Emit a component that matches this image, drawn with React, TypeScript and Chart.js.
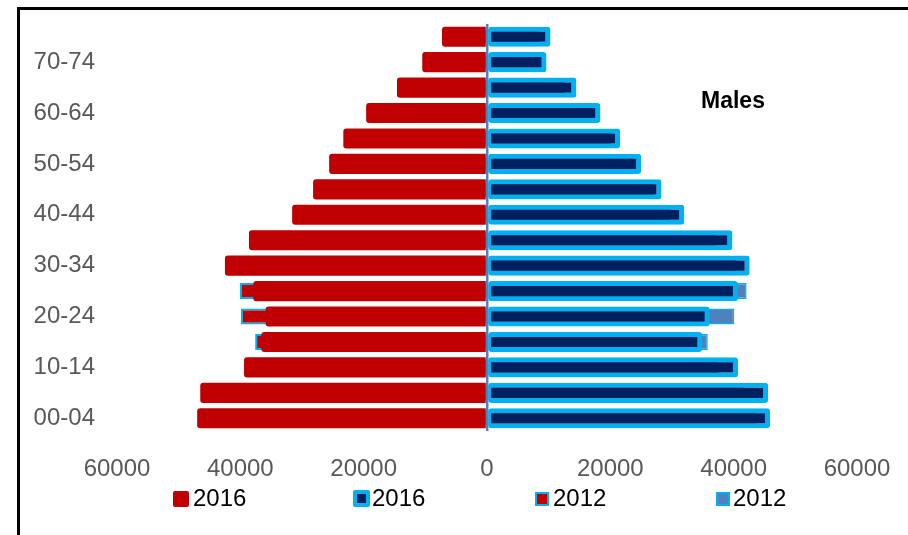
import React, { useEffect, useRef } from 'react';
import { Chart, registerables } from 'chart.js';

Chart.register(...registerables);

// Age bands, youngest first (drawn bottom-up via a reversed axis)
const ageGroups = [
  '00-04', '05-09', '10-14', '15-19', '20-24', '25-29', '30-34', '35-39',
  '40-44', '45-49', '50-54', '55-59', '60-64', '65-69', '70-74', '75-79',
];

// Population counts per age band
const females2016 = [47000, 46500, 39400, 36600, 35900, 37900, 42500, 38600, 31600, 28200, 25600, 23300, 19600, 14600, 10500, 7300];
const males2016 = [45900, 45600, 40700, 34900, 36100, 40700, 42600, 39800, 32000, 28300, 25000, 21600, 18400, 14500, 9650, 10300];
const females2012 = [44800, 42500, 38600, 37600, 39900, 40100, 41000, 36200, 30500, 27400, 24800, 22100, 17900, 12800, 9600, 6800];
const males2012 = [43800, 41800, 37600, 35800, 40100, 42100, 40500, 37200, 29800, 27200, 23900, 20100, 16600, 12600, 8900, 8600];

// Value axis range and tick spacing
const axisMin = -60000;
const axisMax = 60000;
const axisStep = 20000;

const legendItems = ['2016', '2016', '2012', '2012'];

const FONT = '"Liberation Sans", Arial, sans-serif';
const RED = '#C00000';
const NAVY = '#002060';
const SKY = '#00B0F0';
const STEEL = '#4F81BD';

export default function App() {
  const canvasRef = useRef<HTMLCanvasElement>(null);

  useEffect(() => {
    const canvas = canvasRef.current;
    if (!canvas) return;
    const chart = new Chart(canvas, {
      type: 'bar',
      data: {
        labels: ageGroups,
        datasets: [
          {
            label: '2016',
            data: females2016.map((v) => -v),
            backgroundColor: RED,
            borderWidth: 0,
            borderRadius: 3,
            grouped: false,
            barPercentage: 0.79,
            categoryPercentage: 1,
            order: 0,
          },
          {
            label: '2016',
            data: males2016,
            backgroundColor: NAVY,
            borderColor: SKY,
            borderWidth: { left: 3, top: 5, right: 5, bottom: 5 },
            borderSkipped: false,
            borderRadius: 3,
            grouped: false,
            barPercentage: 0.79,
            categoryPercentage: 1,
            order: 1,
          },
          {
            label: '2012',
            data: females2012.map((v) => -v),
            backgroundColor: RED,
            borderColor: SKY,
            borderWidth: 2,
            borderSkipped: 'start',
            grouped: false,
            barPercentage: 0.63,
            categoryPercentage: 1,
            order: 2,
          },
          {
            label: '2012',
            data: males2012,
            backgroundColor: STEEL,
            borderColor: SKY,
            borderWidth: 1.5,
            borderSkipped: 'start',
            grouped: false,
            barPercentage: 0.63,
            categoryPercentage: 1,
            order: 3,
          },
        ],
      },
      options: {
        indexAxis: 'y',
        responsive: false,
        animation: false,
        layout: { padding: { left: 12, right: 51, top: 24, bottom: 27 } },
        plugins: {
          legend: { display: false },
          tooltip: { enabled: false },
        },
        scales: {
          x: {
            type: 'linear',
            min: axisMin,
            max: axisMax,
            z: 1,
            ticks: {
              stepSize: axisStep,
              padding: 24,
              color: '#595959',
              font: { family: FONT, size: 24 },
              callback: (v: any) => String(Math.abs(Number(v))),
            },
            grid: {
              drawTicks: false,
              color: (ctx: any) => (ctx.tick && ctx.tick.value === 0 ? STEEL : 'rgba(0,0,0,0)'),
              lineWidth: 2.5,
            },
            border: { display: false },
            afterFit: (s: any) => {
              s.paddingLeft = 0;
              s.paddingRight = 0;
              s.height = 77;
            },
          },
          y: {
            type: 'category',
            reverse: true,
            ticks: {
              autoSkip: false,
              padding: 22,
              color: '#595959',
              font: { family: FONT, size: 24 },
              callback: (_v: any, i: number) => (i % 2 === 0 ? ageGroups[i] : ''),
            },
            grid: { display: false, drawTicks: false },
            border: { display: false },
            afterFit: (s: any) => {
              s.paddingTop = 0;
              s.paddingBottom = 0;
              s.width = 105;
            },
          },
        },
      },
    } as any);
    return () => chart.destroy();
  }, []);

  const legendBoxes: React.CSSProperties[] = [
    { left: 173, top: 491, width: 16, height: 16, background: RED, borderRadius: 2 },
    { left: 353, top: 490, width: 9, height: 9, background: NAVY, border: `4px solid ${SKY}`, borderRadius: 2 },
    { left: 535, top: 492, width: 10, height: 10, background: RED, border: `2px solid ${SKY}` },
    { left: 716, top: 492, width: 10, height: 10, background: STEEL, border: `2px solid ${SKY}` },
  ];
  const legendTextLeft = [193, 372, 553, 733];

  return (
    <div
      style={{
        position: 'fixed',
        left: 0,
        top: 0,
        width: 908,
        height: 535,
        overflow: 'hidden',
        background: '#ffffff',
      }}
    >
      <div
        style={{
          position: 'absolute',
          left: 17,
          top: 7,
          width: 1200,
          height: 1200,
          border: '3px solid #000000',
        }}
      />
      <canvas
        ref={canvasRef}
        width={908}
        height={535}
        style={{ position: 'absolute', left: 0, top: 0, width: 908, height: 535 }}
      />
      <div
        style={{
          position: 'absolute',
          left: 701,
          top: 89,
          fontFamily: FONT,
          fontWeight: 'bold',
          fontSize: 23,
          lineHeight: '23px',
          color: '#000000',
          whiteSpace: 'nowrap',
        }}
      >
        Males
      </div>
      {legendItems.map((t, i) => (
        <React.Fragment key={i}>
          <div style={{ position: 'absolute', ...legendBoxes[i] }} />
          <div
            style={{
              position: 'absolute',
              left: legendTextLeft[i],
              top: 486,
              fontFamily: FONT,
              fontSize: 24,
              lineHeight: '24px',
              color: '#000000',
              whiteSpace: 'nowrap',
            }}
          >
            {t}
          </div>
        </React.Fragment>
      ))}
    </div>
  );
}
